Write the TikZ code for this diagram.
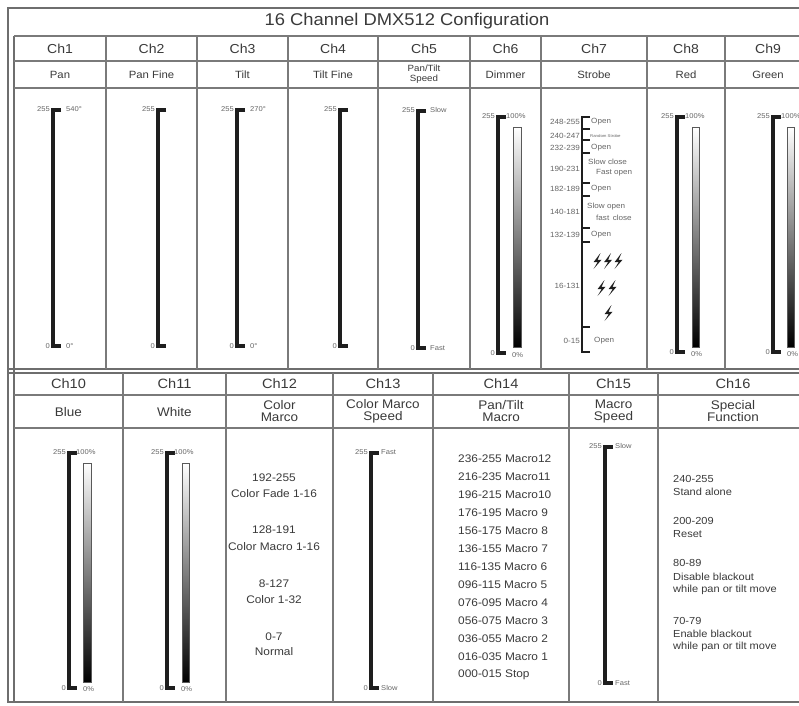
\documentclass[tikz,border=0pt]{standalone}
\usepackage{fontspec}
\setmainfont{Liberation Sans}[FakeStretch=1.08]
\definecolor{gridc}{HTML}{7A7A7A}
\definecolor{framec}{HTML}{6E6E6E}
\definecolor{barc}{HTML}{1E1E1E}
\definecolor{txtc}{HTML}{3A3A3A}
\definecolor{lblc}{HTML}{666666}
\newcommand\scalebracket[3]{\draw[barline] (#1+8,#2) -- (#1,#2) -- (#1,#3) -- (#1+8,#3);}
\newcommand\gradbar[4]{\shade[top color=white,bottom color=black] (#1,#2) rectangle (#3,#4);
  \draw[line width=0.9pt, draw=gray!70!black] (#1,#2) rectangle (#3,#4);}
\newcommand\bolt[2]{\fill[barc] (#1+3.5,#2-8) -- (#1-3.5,#2+1.2) -- (#1+0.6,#2+1.2) -- (#1-3.5,#2+8) -- (#1+4.5,#2-1.2) -- (#1+0.6,#2-1.2) -- cycle;}
\begin{document}
\begin{tikzpicture}[x=1pt,y=-1pt,
 gridline/.style={draw=gridc, line width=1.4pt},
 frameline/.style={draw=framec, line width=1.5pt},
 barline/.style={draw=barc, line width=3.2pt},
 thinbar/.style={draw=barc, line width=2pt},
 titlet/.style={font=\fontsize{17}{18}\selectfont, text=txtc, inner sep=0pt},
 hdr/.style={font=\fontsize{13}{14}\selectfont, text=txtc, inner sep=0pt},
 hdrb/.style={font=\fontsize{13.5}{15}\selectfont, text=txtc, inner sep=0pt},
 nm/.style={font=\fontsize{10.5}{11}\selectfont, text=txtc, inner sep=0pt, align=center},
 nmsmall/.style={font=\fontsize{9}{10}\selectfont, text=txtc, inner sep=0pt, align=center},
 nmb/.style={font=\fontsize{12.5}{12}\selectfont, text=txtc, inner sep=0pt, align=center},
 lbl/.style={font=\fontsize{7}{8}\selectfont, text=lblc, inner sep=0pt},
 lblc7/.style={font=\fontsize{7.5}{8}\selectfont, text=lblc, inner sep=0pt},
 tiny/.style={font=\fontsize{4}{5}\selectfont, text=lblc, inner sep=0pt},
 bodyt/.style={font=\fontsize{11}{13}\selectfont, text=txtc, inner sep=0pt},
]
\fill[white] (0,0) rectangle (799,705);
\useasboundingbox (0,0) rectangle (799,705);
\clip (0,0) rectangle (799,705);

% ---------- frame and grid ----------
\draw[frameline] (830,8) -- (8,8) -- (8,702) -- (830,702);
\draw[frameline] (14,36) -- (14,702);
\draw[gridline] (14,36) -- (830,36);
\draw[gridline] (14,61) -- (830,61);
\draw[gridline] (14,88) -- (830,88);
\draw[frameline] (8,369) -- (830,369);
\draw[frameline] (8,373) -- (830,373);
\draw[gridline] (14,395) -- (830,395);
\draw[gridline] (14,428) -- (830,428);
\foreach \xx in {106,197,288,378,470,541,647,725}
  \draw[gridline] (\xx,36) -- (\xx,369);
\foreach \xx in {123,226,333,433,569,658}
  \draw[gridline] (\xx,373) -- (\xx,702);

% ---------- title ----------
\node[titlet] (title) at (407,21) {16 Channel DMX512 Configuration};

% ---------- top headers ----------
\foreach \xx/\tt/\nn in {60/Ch1/h1, 151.5/Ch2/h2, 242.5/Ch3/h3, 333/Ch4/h4, 424/Ch5/h5, 505.5/Ch6/h6, 594/Ch7/h7, 686/Ch8/h8, 768/Ch9/h9}
  \node[hdr] (\nn) at (\xx,48.5) {\tt};
\foreach \xx/\tt/\nn in {60/Pan/n1, 151.5/Pan Fine/n2, 242.5/Tilt/n3, 333/Tilt Fine/n4, 505.5/Dimmer/n6, 594/Strobe/n7, 686/Red/n8, 768/Green/n9}
  \node[nm] (\nn) at (\xx,74.5) {\tt};
\node[nmsmall] (n5) at (424,74.5) {Pan/Tilt\\Speed};

% ---------- top scales ----------
% Ch1
\scalebracket{53}{110}{346}
\node[lbl,anchor=east] (c1a) at (50,109) {255};
\node[lbl,anchor=west] (c1b) at (66,109) {540°};
\node[lbl,anchor=east] (c1c) at (50,346) {0};
\node[lbl,anchor=west] (c1d) at (66,346) {0°};
% Ch2
\scalebracket{158}{110}{346}
\node[lbl,anchor=east] (c2a) at (155,109) {255};
\node[lbl,anchor=east] (c2c) at (155,346) {0};
% Ch3
\scalebracket{237}{110}{346}
\node[lbl,anchor=east] (c3a) at (234,109) {255};
\node[lbl,anchor=west] (c3b) at (250,109) {270°};
\node[lbl,anchor=east] (c3c) at (234,346) {0};
\node[lbl,anchor=west] (c3d) at (250,346) {0°};
% Ch4
\scalebracket{340}{110}{346}
\node[lbl,anchor=east] (c4a) at (337,109) {255};
\node[lbl,anchor=east] (c4c) at (337,346) {0};
% Ch5
\scalebracket{418}{111}{348}
\node[lbl,anchor=east] (c5a) at (415,110) {255};
\node[lbl,anchor=west] (c5b) at (430,110) {Slow};
\node[lbl,anchor=east] (c5c) at (415,348) {0};
\node[lbl,anchor=west] (c5d) at (430,348) {Fast};
% Ch6
\scalebracket{498}{117}{353}
\gradbar{513}{127}{521}{347}
\node[lbl,anchor=east] (c6a) at (495,116) {255};
\node[lbl,anchor=west] (c6b) at (506,116) {100\%};
\node[lbl,anchor=east] (c6c) at (495,353) {0};
\node[lbl,anchor=west] (c6d) at (512,355) {0\%};
% Ch8
\scalebracket{677}{117}{352}
\gradbar{692}{127}{699}{347}
\node[lbl,anchor=east] (c8a) at (674,116) {255};
\node[lbl,anchor=west] (c8b) at (685,116) {100\%};
\node[lbl,anchor=east] (c8c) at (674,352) {0};
\node[lbl,anchor=west] (c8d) at (691,354) {0\%};
% Ch9
\scalebracket{773}{117}{352}
\gradbar{787}{127}{794}{347}
\node[lbl,anchor=east] (c9a) at (770,116) {255};
\node[lbl,anchor=west] (c9b) at (781,116) {100\%};
\node[lbl,anchor=east] (c9c) at (770,352) {0};
\node[lbl,anchor=west] (c9d) at (787,354) {0\%};

% Ch7 strobe
\draw[thinbar] (590,117) -- (582,117) -- (582,352) -- (590,352);
\foreach \yy in {129,140,153,183,196,228,242,327}
  \draw[draw=barc, line width=1.3pt] (582,\yy) -- (590,\yy);
\foreach \yy/\tt/\nn in {122/248-255/s1, 136/240-247/s2, 148/232-239/s3, 169/190-231/s4, 189/182-189/s5, 212/140-181/s6, 235/132-139/s7, 286/16-131/s8, 341/0-15/s9}
  \node[lblc7,anchor=east] (\nn) at (580,\yy) {\tt};
\node[lblc7,anchor=west] (r1) at (591,122) {Open};
\node[tiny,anchor=west] (r2) at (590,136) {Random Strobe};
\node[lblc7,anchor=west] (r3) at (591,148) {Open};
\node[lblc7,anchor=west] (r4a) at (588,162) {Slow close};
\node[lblc7,anchor=west] (r4b) at (596,173) {Fast open};
\node[lblc7,anchor=west] (r5) at (591,189) {Open};
\node[lblc7,anchor=west] (r6a) at (587,207) {Slow open};
\node[lblc7,anchor=west] (r6b) at (596,218) {fast\, close};
\node[lblc7,anchor=west] (r7) at (591,235) {Open};
\node[lblc7,anchor=west] (r9) at (594,341) {Open};
\bolt{597}{261}\bolt{607.5}{261}\bolt{618}{261}
\bolt{601}{288}\bolt{612}{288}
\bolt{608}{313}

% ---------- bottom headers ----------
\foreach \xx/\tt/\nn in {68.5/Ch10/h10, 174.5/Ch11/h11, 279.5/Ch12/h12, 383/Ch13/h13, 501/Ch14/h14, 613.5/Ch15/h15, 733/Ch16/h16}
  \node[hdrb] (\nn) at (\xx,383.5) {\tt};
\node[nmb] (n10) at (68.5,412) {Blue};
\node[nmb] (n11) at (174.5,412) {White};
\node[nmb] (n12) at (279.5,411) {Color\\Marco};
\node[nmb] (n13) at (383,411) {Color Marco\\Speed};
\node[nmb] (n14) at (501,411) {Pan/Tilt\\Macro};
\node[nmb] (n15) at (613.5,411) {Macro\\Speed};
\node[nmb] (n16) at (733,411) {Special\\Function};

% ---------- bottom scales ----------
% Ch10
\scalebracket{69}{453}{688}
\gradbar{83}{463}{91}{682}
\node[lbl,anchor=east] (d10a) at (66,452) {255};
\node[lbl,anchor=west] (d10b) at (76,452) {100\%};
\node[lbl,anchor=east] (d10c) at (66,688) {0};
\node[lbl,anchor=west] (d10d) at (83,689) {0\%};
% Ch11
\scalebracket{167}{453}{688}
\gradbar{182}{463}{189}{682}
\node[lbl,anchor=east] (d11a) at (164,452) {255};
\node[lbl,anchor=west] (d11b) at (174,452) {100\%};
\node[lbl,anchor=east] (d11c) at (164,688) {0};
\node[lbl,anchor=west] (d11d) at (181,689) {0\%};
% Ch12
\foreach \yy/\tt/\nn in {478/192-255/e1, 494/Color Fade 1-16/e2, 530/128-191/e3, 547/Color Macro 1-16/e4, 584/8-127/e5, 600/Color 1-32/e6, 637/0-7/e7, 652/Normal/e8}
  \node[bodyt] (\nn) at (274,\yy) {\tt};
% Ch13
\scalebracket{371}{453}{688}
\node[lbl,anchor=east] (d13a) at (368,452) {255};
\node[lbl,anchor=west] (d13b) at (381,452) {Fast};
\node[lbl,anchor=east] (d13c) at (368,688) {0};
\node[lbl,anchor=west] (d13d) at (381,688) {Slow};
% Ch14
\foreach \tt [count=\ii from 0] in {236-255 Macro12, 216-235 Macro11, 196-215 Macro10, 176-195 Macro 9, 156-175 Macro 8, 136-155 Macro 7, 116-135 Macro 6, 096-115 Macro 5, 076-095 Macro 4, 056-075 Macro 3, 036-055 Macro 2, 016-035 Macro 1, 000-015 Stop}
  \node[bodyt,anchor=west] (m\ii) at (458,459+18*\ii) {\tt};
% Ch15
\scalebracket{605}{447}{683}
\node[lbl,anchor=east] (d15a) at (602,446) {255};
\node[lbl,anchor=west] (d15b) at (615,446) {Slow};
\node[lbl,anchor=east] (d15c) at (602,683) {0};
\node[lbl,anchor=west] (d15d) at (615,683) {Fast};
% Ch16
\foreach \yy/\tt/\nn in {479/240-255/f1, 492/Stand alone/f2, 521/200-209/f3, 534/Reset/f4, 563/80-89/f5, 577/Disable blackout/f6, 590/while pan or tilt move/f7, 621/70-79/f8, 634/Enable blackout/f9, 647/while pan or tilt move/f10}
  \node[bodyt,anchor=west,font=\fontsize{10.2}{11}\selectfont] (\nn) at (673,\yy) {\tt};
\end{tikzpicture}
\end{document}
